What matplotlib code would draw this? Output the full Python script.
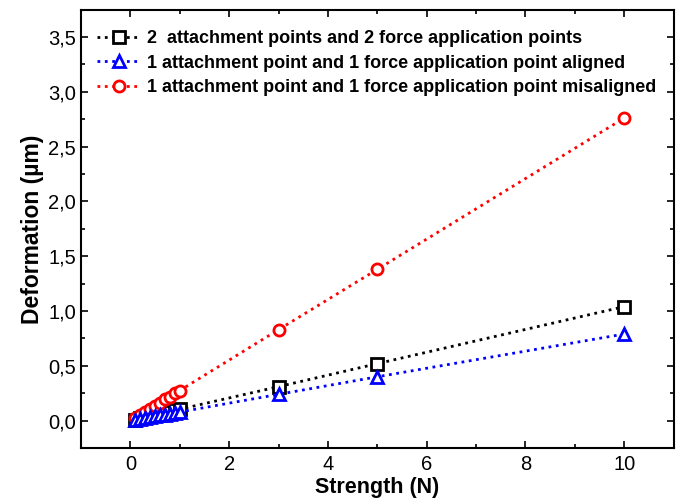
import matplotlib
matplotlib.use("Agg")
import matplotlib.pyplot as plt
from matplotlib.ticker import MultipleLocator, FuncFormatter

plt.rcParams['font.family'] = ['Liberation Sans', 'DejaVu Sans']

strength = [0.1, 0.2, 0.3, 0.4, 0.5, 0.6, 0.7, 0.8, 0.9, 1.0, 3.0, 5.0, 10.0]
two_points = [0.010, 0.021, 0.031, 0.042, 0.052, 0.062, 0.073, 0.083, 0.094, 0.104, 0.31, 0.52, 1.04]
aligned = [0.008, 0.016, 0.024, 0.031, 0.039, 0.047, 0.055, 0.063, 0.071, 0.079, 0.24, 0.40, 0.79]
misaligned = [0.028, 0.055, 0.083, 0.110, 0.138, 0.165, 0.193, 0.220, 0.248, 0.275, 0.83, 1.38, 2.76]

labels = ["2  attachment points and 2 force application points",
          "1 attachment point and 1 force application point aligned",
          "1 attachment point and 1 force application point misaligned"]

fig = plt.figure(figsize=(6.83, 5.04), dpi=100)
ax = fig.add_axes([0.1186, 0.111, 0.8675, 0.870])

common = dict(linestyle=':', linewidth=2, markersize=8, markeredgewidth=2,
              markerfacecolor='white')
l1, = ax.plot(strength, two_points, marker='s', color='black', label=labels[0], **common)
l3, = ax.plot(strength, misaligned, marker='o', color='#ff0000', label=labels[2], **common)
l2, = ax.plot(strength, aligned, marker='^', color='#0000ff', label=labels[1], **common)

ax.set_xlim(-1, 11)
ax.set_ylim(-0.25, 3.75)
ax.xaxis.set_major_locator(MultipleLocator(2))
ax.xaxis.set_minor_locator(MultipleLocator(1))
ax.yaxis.set_major_locator(MultipleLocator(0.5))
ax.yaxis.set_minor_locator(MultipleLocator(0.25))
ax.yaxis.set_major_formatter(FuncFormatter(lambda v, p: f"{v:.1f}".replace('.', ',')))
ax.tick_params(which='both', direction='in', top=True, right=True, labelsize=14.5, width=1.2)
ax.tick_params(which='major', length=5)
ax.tick_params(which='minor', length=3)
ax.tick_params(axis='x', pad=5)
for s in ax.spines.values():
    s.set_linewidth(1.5)

ax.set_xlabel("Strength (N)", fontsize=15.5, fontweight='bold', labelpad=2)
ax.set_ylabel("Deformation (µm)", fontsize=16.5, fontweight='bold', labelpad=3)

leg = ax.legend(handles=[l1, l2, l3], loc='upper left', frameon=False,
                prop={'weight': 'bold', 'size': 13}, handlelength=2.4,
                handletextpad=0.35, labelspacing=0.42, borderaxespad=0.0,
                bbox_to_anchor=(0.015, 0.97))

fig.savefig("out.png", dpi=100)
